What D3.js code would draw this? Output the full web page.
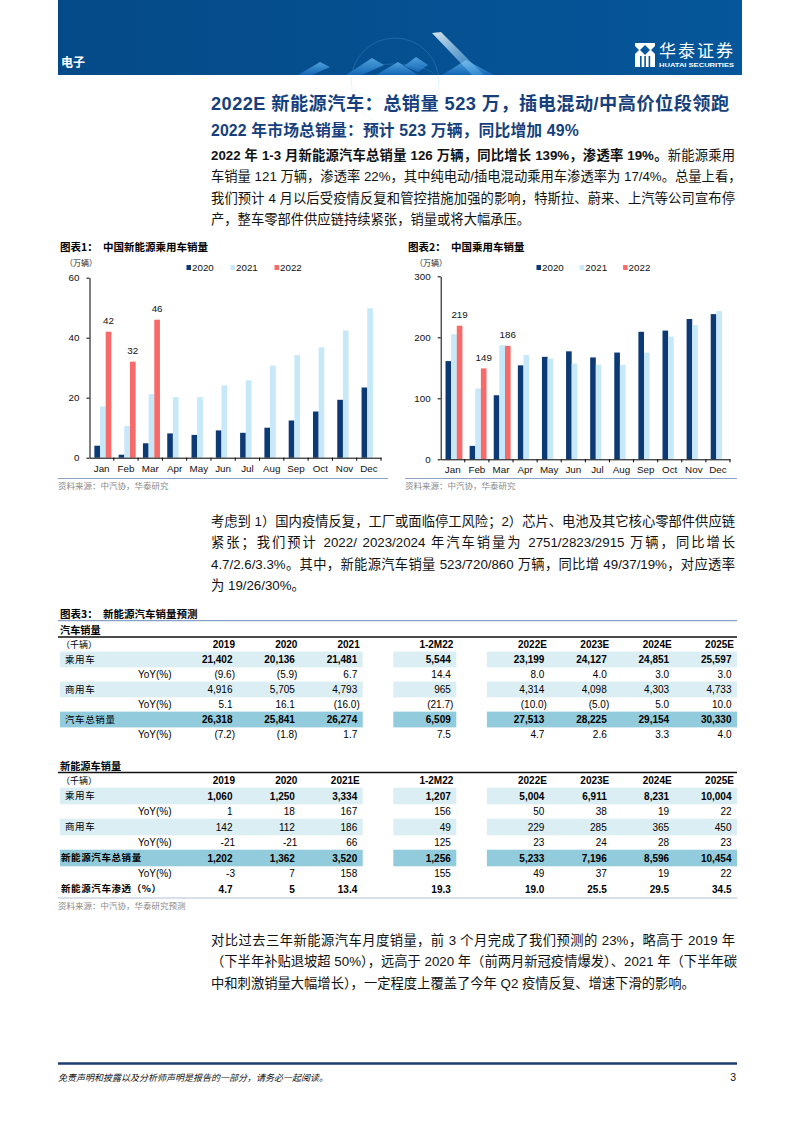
<!DOCTYPE html>
<html lang="zh-CN">
<head>
<meta charset="utf-8">
<script src="https://cdn.jsdelivr.net/npm/d3@7"></script>
<style>
  body { margin: 0; width: 794px; height: 1123px; position: relative; background: #fff;
         font-family: "Liberation Sans", Arial, "Noto Sans CJK SC", sans-serif; }
  svg { position: absolute; left: 0; top: 0; }
  .tl { position: absolute; left: 211px; width: 524px; white-space: nowrap; color: #111;
        font-size: 13.3px; line-height: 16px; text-align: justify; text-align-last: justify; }
  .tl.last { text-align-last: left; }
  .tl b { font-weight: bold; }
</style>
</head>
<body>
<svg id="page" width="794" height="1123"></svg>
<script>
// chart data
const months = ['Jan', 'Feb', 'Mar', 'Apr', 'May', 'Jun', 'Jul', 'Aug', 'Sep', 'Oct', 'Nov', 'Dec'];
const years = ['2020', '2021', '2022'];
const nev2020 = [4.0, 1.0, 4.8, 8.1, 7.6, 9.1, 8.3, 10.0, 12.4, 15.4, 19.3, 23.4];
const nev2021 = [17.1, 10.6, 21.2, 20.2, 20.2, 24.1, 25.8, 30.7, 34.2, 36.8, 42.4, 49.8];
const nev2022 = [42, 32, 46];
const pv2020 = [161, 22, 105, 154, 168, 177, 167, 175, 209, 211, 230, 238];
const pv2021 = [205, 116, 187, 171, 165, 157, 155, 155, 175, 201, 220, 243];
const pv2022 = [219, 149, 186];
const nevTicks = [0, 20, 40, 60];
const pvTicks = [0, 100, 200, 300];

// table data
const autoCols = ['2019', '2020', '2021', '1-2M22', '2022E', '2023E', '2024E', '2025E'];
const autoLabels = ['乘用车', 'YoY(%)', '商用车', 'YoY(%)', '汽车总销量', 'YoY(%)'];
const autoValues = [
  ['21,402', '20,136', '21,481', '5,544', '23,199', '24,127', '24,851', '25,597'],
  ['(9.6)', '(5.9)', '6.7', '14.4', '8.0', '4.0', '3.0', '3.0'],
  ['4,916', '5,705', '4,793', '965', '4,314', '4,098', '4,303', '4,733'],
  ['5.1', '16.1', '(16.0)', '(21.7)', '(10.0)', '(5.0)', '5.0', '10.0'],
  ['26,318', '25,841', '26,274', '6,509', '27,513', '28,225', '29,154', '30,330'],
  ['(7.2)', '(1.8)', '1.7', '7.5', '4.7', '2.6', '3.3', '4.0']
];
const nevCols = ['2019', '2020', '2021E', '1-2M22', '2022E', '2023E', '2024E', '2025E'];
const nevLabels = ['乘用车', 'YoY(%)', '商用车', 'YoY(%)', '新能源汽车总销量', 'YoY(%)', '新能源汽车渗透（%）'];
const nevValues = [
  ['1,060', '1,250', '3,334', '1,207', '5,004', '6,911', '8,231', '10,004'],
  ['1', '18', '167', '156', '50', '38', '19', '22'],
  ['142', '112', '186', '49', '229', '285', '365', '450'],
  ['-21', '-21', '66', '125', '23', '24', '28', '23'],
  ['1,202', '1,362', '3,520', '1,256', '5,233', '7,196', '8,596', '10,454'],
  ['-3', '7', '158', '155', '49', '37', '19', '22'],
  ['4.7', '5', '13.4', '19.3', '19.0', '25.5', '29.5', '34.5']
];

const colors = {'2020': '#0d3a75', '2021': '#c6e8f8', '2022': '#f76a6a'};
const cjk = '"Noto Sans CJK SC", sans-serif';
const svg = d3.select('#page');

// ---- header band
const defs = svg.append('defs');
const bandGrad = defs.append('linearGradient').attr('id', 'band');
bandGrad.append('stop').attr('offset', '0').attr('stop-color', '#054a88');
bandGrad.append('stop').attr('offset', '1').attr('stop-color', '#05569a');
const ridge = defs.append('linearGradient').attr('id', 'ridge').attr('x1', 0).attr('y1', 0).attr('x2', 0).attr('y2', 1);
ridge.append('stop').attr('offset', '0').attr('stop-color', '#6cc4fa');
ridge.append('stop').attr('offset', '1').attr('stop-color', '#1a6fc4');
const shine = defs.append('linearGradient').attr('id', 'shine').attr('x1', 0).attr('y1', 0).attr('x2', 1).attr('y2', 1);
shine.append('stop').attr('offset', '0').attr('stop-color', '#ffffff').attr('stop-opacity', 0.85);
shine.append('stop').attr('offset', '1').attr('stop-color', '#5ab8f5').attr('stop-opacity', 0.35);

svg.append('rect').attr('x', 58).attr('y', 0).attr('width', 684).attr('height', 75).attr('fill', 'url(#band)');
const deco = svg.append('g');
deco.append('circle').attr('cx', 395).attr('cy', 82).attr('r', 44)
  .attr('fill', 'none').attr('stroke', '#8fd3ff').attr('stroke-opacity', 0.3).attr('stroke-width', 0.6);
deco.append('ellipse').attr('cx', 395).attr('cy', 82).attr('rx', 44).attr('ry', 18)
  .attr('fill', 'none').attr('stroke', '#8fd3ff').attr('stroke-opacity', 0.25).attr('stroke-width', 0.6);
const shapes = [
  [[298, 75], [320, 62], [330, 67], [312, 75]],
  [[346, 75], [372, 58], [384, 65], [362, 75]],
  [[376, 75], [398, 62], [418, 75]],
  [[404, 66], [416, 57], [428, 65], [418, 72]],
  [[442, 75], [466, 60], [494, 75]]
];
deco.selectAll('polygon.r').data(shapes).join('polygon').attr('class', 'r')
  .attr('points', d => d.join(' ')).attr('fill', 'url(#ridge)').attr('opacity', 0.7);
deco.append('polygon').attr('points', '432,33 441,32 484,75 472,75')
  .attr('fill', 'url(#shine)');

svg.append('text').attr('x', 61).attr('y', 67).text('电子')
  .attr('fill', '#fff').attr('font-family', cjk).attr('font-weight', 'bold').attr('font-size', 12);

// logo
const logo = svg.append('g').attr('transform', 'translate(635,43)');
logo.append('rect').attr('width', 20).attr('height', 24).attr('fill', '#fff');
logo.append('polygon').attr('points', '10,2 15,7 10,12 5,7').attr('fill', '#05569a');
logo.append('polygon').attr('points', '0,3 4,7 0,11').attr('fill', '#05569a');
logo.append('polygon').attr('points', '20,3 16,7 20,11').attr('fill', '#05569a');
[5, 9.3, 13.6].forEach(x => logo.append('rect').attr('x', x).attr('y', 13).attr('width', 1.6).attr('height', 11).attr('fill', '#05569a'));
svg.append('text').attr('x', 659).attr('y', 57).text('华泰证券')
  .attr('fill', '#fff').attr('font-family', cjk).attr('font-size', 17).attr('letter-spacing', 2);
svg.append('text').attr('x', 659).attr('y', 67).text('HUATAI SECURITIES')
  .attr('fill', '#fff').attr('font-family', '"Liberation Sans", Arial').attr('font-weight', 'bold')
  .attr('font-size', 6.2).attr('textLength', 75).attr('lengthAdjust', 'spacingAndGlyphs');

// ---- titles
svg.append('text').attr('x', 211).attr('y', 109.5)
  .text('2022E 新能源汽车：总销量 523 万，插电混动/中高价位段领跑')
  .attr('fill', '#163f7c').attr('font-weight', 'bold').attr('font-size', 18.2).attr('letter-spacing', 0.45);
svg.append('text').attr('x', 211).attr('y', 135.5)
  .text('2022 年市场总销量：预计 523 万辆，同比增加 49%')
  .attr('fill', '#163f7c').attr('font-weight', 'bold').attr('font-size', 15.8).attr('letter-spacing', 0.15);

// ---- paragraphs (one element per line, justified)
function paragraph(lines, top, step) {
  lines.forEach((html, i) => {
    d3.select('body').append('div')
      .attr('class', 'tl' + (i === lines.length - 1 ? ' last' : ''))
      .style('top', (top + i * step - 8) + 'px')
      .html(html);
  });
}
paragraph([
  '<b>2022 年 1-3 月新能源汽车总销量 126 万辆，同比增长 139%，渗透率 19%。</b>新能源乘用',
  '车销量 121 万辆，渗透率 22%，其中纯电动/插电混动乘用车渗透率为 17/4%。总量上看，',
  '我们预计 4 月以后受疫情反复和管控措施加强的影响，特斯拉、蔚来、上汽等公司宣布停',
  '产，整车零部件供应链持续紧张，销量或将大幅承压。'
], 156, 21.4);
paragraph([
  '考虑到 1）国内疫情反复，工厂或面临停工风险；2）芯片、电池及其它核心零部件供应链',
  '紧张；我们预计 2022/ 2023/2024 年汽车销量为 2751/2823/2915 万辆，同比增长',
  '4.7/2.6/3.3%。其中，新能源汽车销量 523/720/860 万辆，同比增 49/37/19%，对应透率',
  '为 19/26/30%。'
], 522, 21.4);
paragraph([
  '对比过去三年新能源汽车月度销量，前 3 个月完成了我们预测的 23%，略高于 2019 年',
  '（下半年补贴退坡超 50%），远高于 2020 年（前两月新冠疫情爆发）、2021 年（下半年碳',
  '中和刺激销量大幅增长），一定程度上覆盖了今年 Q2 疫情反复、增速下滑的影响。'
], 941, 21.4);

// ---- bar charts
function barChart(o) {
  const g = svg.append('g');
  g.append('text').attr('x', o.titleX).attr('y', 250.5).attr('font-family', cjk)
    .attr('font-weight', 'bold').attr('font-size', 10.5)
    .text(o.num).append('tspan').attr('x', o.titleX + 43).text(o.title);
  g.append('text').attr('x', o.unitX).attr('y', 266).attr('font-family', cjk)
    .attr('font-size', 8).attr('fill', '#222').text('（万辆）');

  const x0 = d3.scaleBand().domain(months).range([o.left, o.right]);
  const x1 = d3.scaleBand().domain(years)
    .range([x0.bandwidth() * 0.2, x0.bandwidth() * 0.9]);
  const y = d3.scaleLinear().domain(o.domain).range([o.bottom, o.top]);

  const series = years.map((yr, k) => ({yr, vals: o.series[k]}));
  g.selectAll('g.s').data(series).join('g').attr('fill', d => colors[d.yr])
    .selectAll('rect').data(d => d.vals.map((v, i) => ({yr: d.yr, m: months[i], v})))
    .join('rect')
    .attr('x', d => x0(d.m) + x1(d.yr)).attr('width', x1.bandwidth())
    .attr('y', d => y(d.v)).attr('height', d => y(0) - y(d.v));

  g.selectAll('text.lab').data(o.series[2]).join('text').attr('class', 'lab')
    .attr('x', (d, i) => x0(months[i]) + x1('2022') + x1.bandwidth() / 2)
    .attr('y', d => y(d) - 7.5).attr('text-anchor', 'middle')
    .attr('font-size', 9.8).attr('fill', '#111').text(d => d);

  const yAxis = g.append('g').attr('transform', `translate(${o.left},0)`)
    .call(d3.axisLeft(y).tickValues(o.ticks).tickSize(3).tickSizeOuter(0).tickPadding(7));
  yAxis.selectAll('text').attr('font-size', 9.8).attr('fill', '#111')
    .attr('font-family', '"Liberation Sans", Arial');
  const xAxis = g.append('g').attr('transform', `translate(0,${o.bottom})`)
    .call(d3.axisBottom(x0).tickSize(0).tickSizeOuter(0).tickPadding(7));
  xAxis.selectAll('text').attr('font-size', 9.8).attr('fill', '#111')
    .attr('font-family', '"Liberation Sans", Arial');
  g.selectAll('line.bt').data(months.slice(1).concat(['end'])).join('line').attr('class', 'bt')
    .attr('x1', d => d === 'end' ? o.right : x0(d)).attr('x2', d => d === 'end' ? o.right : x0(d))
    .attr('y1', o.bottom).attr('y2', o.bottom + 3).attr('stroke', '#000');
  g.selectAll('.domain, .tick line').attr('stroke', '#000');

  const leg = g.selectAll('g.leg').data(years).join('g').attr('class', 'leg')
    .attr('transform', (d, i) => `translate(${o.legX + i * o.legStep},267.5)`);
  leg.append('rect').attr('x', 0).attr('y', -2.5).attr('width', 4.5).attr('height', 5)
    .attr('fill', d => colors[d]);
  leg.append('text').attr('x', 5.5).attr('y', 3.4).attr('font-size', 9.8).attr('fill', '#111').text(d => d);

  g.append('line').attr('x1', o.srcX1).attr('x2', o.srcX2).attr('y1', 478.5).attr('y2', 478.5)
    .attr('stroke', '#8ba4c6').attr('stroke-width', 1);
  g.append('text').attr('x', o.srcX1).attr('y', 488.5).attr('font-family', cjk)
    .attr('font-size', 8.5).attr('fill', '#8a8a8a').text('资料来源：中汽协，华泰研究');
}

barChart({num: '图表1：', title: '中国新能源乘用车销量', titleX: 60, unitX: 65,
  left: 89.5, right: 381, top: 277.7, bottom: 457.7, domain: [0, 60], ticks: nevTicks,
  series: [nev2020, nev2021, nev2022], legX: 186.5, legStep: 44, srcX1: 58, srcX2: 388});
barChart({num: '图表2：', title: '中国乘用车销量', titleX: 408, unitX: 415,
  left: 440.7, right: 730, top: 276.3, bottom: 459.3, domain: [0, 300], ticks: pvTicks,
  series: [pv2020, pv2021, pv2022], legX: 536.5, legStep: 43.3, srcX1: 405, srcX2: 737});

// ---- tables
const colPos = [0, 1, 2, 3.5, 5, 6, 7, 8];
const colX = d3.scaleLinear().domain([0, 8]).range([235, 734]);

svg.append('text').attr('x', 60).attr('y', 617.5).attr('font-family', cjk).attr('font-weight', 'bold')
  .attr('font-size', 10.5).text('图表3：').append('tspan').attr('x', 103).text('新能源汽车销量预测');
svg.append('line').attr('x1', 58).attr('x2', 737).attr('y1', 620.7).attr('y2', 620.7)
  .attr('stroke', '#6d8db8').attr('stroke-width', 1);

function table(o) {
  const g = svg.append('g');
  g.append('text').attr('x', 60).attr('y', o.lineY - 3).attr('font-family', cjk)
    .attr('font-weight', 'bold').attr('font-size', 10.2).text(o.heading);
  g.append('line').attr('x1', 58).attr('x2', 737).attr('y1', o.lineY).attr('y2', o.lineY)
    .attr('stroke', '#111').attr('stroke-width', 1.6);
  const rowY = d3.scaleLinear().domain([0, 1]).range([o.headY, o.headY + o.step]);

  // shading
  o.labels.forEach((lab, r) => {
    const shade = o.shade[r];
    if (!shade) return;
    const cy = rowY(r + 1);
    const segs = [[60, colX(colPos[2]) + 3], [colX(colPos[3]) - 60, colX(colPos[3]) + 3],
      [colX(colPos[4]) - 60, colX(colPos[7]) + 3]];
    g.selectAll(null).data(segs).join('rect')
      .attr('x', d => d[0]).attr('width', d => d[1] - d[0])
      .attr('y', cy - o.shadeH / 2).attr('height', o.shadeH)
      .attr('fill', shade === 2 ? '#92ccdc' : '#dbeef4');
  });

  g.append('text').attr('x', 61).attr('y', rowY(0) + 3.3).attr('font-family', cjk)
    .attr('font-size', 9).text('（千辆）');
  g.selectAll('text.h').data(o.cols).join('text').attr('class', 'h')
    .attr('x', (d, i) => colX(colPos[i])).attr('y', rowY(0) + 3.6)
    .attr('text-anchor', 'end').attr('font-weight', 'bold').attr('font-size', 10).text(d => d);

  o.labels.forEach((lab, r) => {
    const cy = rowY(r + 1);
    const isYoy = lab === 'YoY(%)';
    g.append('text').attr('x', isYoy ? 138 : (o.boldLabel[r] ? 61 : 65)).attr('y', cy + 3.4)
      .attr('font-family', isYoy ? '"Liberation Sans", Arial' : cjk)
      .attr('font-size', isYoy ? 10 : 9.5).attr('font-weight', o.boldLabel[r] ? 'bold' : 'normal')
      .attr('letter-spacing', isYoy ? 0 : 0.6).text(lab);
    g.selectAll(null).data(o.values[r]).join('text')
      .attr('x', (d, i) => colX(colPos[i]) - (d.startsWith('(') || d.startsWith('-') ? 0 : 2.5))
      .attr('y', cy + 3.6).attr('text-anchor', 'end').attr('font-size', 10)
      .attr('font-weight', o.boldVal[r] ? 'bold' : 'normal').text(d => d);
  });
}

table({heading: '汽车销量', lineY: 637, headY: 644.5, step: 15, shadeH: 15.8,
  cols: autoCols, labels: autoLabels, values: autoValues,
  shade: [1, 0, 1, 0, 2, 0], boldLabel: [0, 0, 0, 0, 0, 0], boldVal: [1, 0, 0, 0, 1, 0]});
table({heading: '新能源车销量', lineY: 772.5, headY: 780.5, step: 15.5, shadeH: 16.6,
  cols: nevCols, labels: nevLabels, values: nevValues,
  shade: [1, 0, 1, 0, 2, 0, 0], boldLabel: [0, 0, 0, 0, 1, 0, 1], boldVal: [1, 0, 0, 0, 1, 0, 1]});

svg.append('line').attr('x1', 58).attr('x2', 737).attr('y1', 898).attr('y2', 898)
  .attr('stroke', '#9cb0cc').attr('stroke-width', 0.8);
svg.append('text').attr('x', 58).attr('y', 908.5).attr('font-family', cjk)
  .attr('font-size', 8.5).attr('fill', '#8a8a8a').text('资料来源：中汽协，华泰研究预测');

// ---- footer
svg.append('line').attr('x1', 58).attr('x2', 737).attr('y1', 1063.5).attr('y2', 1063.5)
  .attr('stroke', '#1d3d70').attr('stroke-width', 2.5);
svg.append('text').attr('x', 58).attr('y', 1080.5).attr('font-family', cjk).attr('font-style', 'italic')
  .attr('font-size', 9).attr('fill', '#111').text('免责声明和披露以及分析师声明是报告的一部分，请务必一起阅读。');
svg.append('text').attr('x', 736).attr('y', 1081).attr('text-anchor', 'end')
  .attr('font-size', 10.5).attr('fill', '#111').text('3');
</script>
</body>
</html>
